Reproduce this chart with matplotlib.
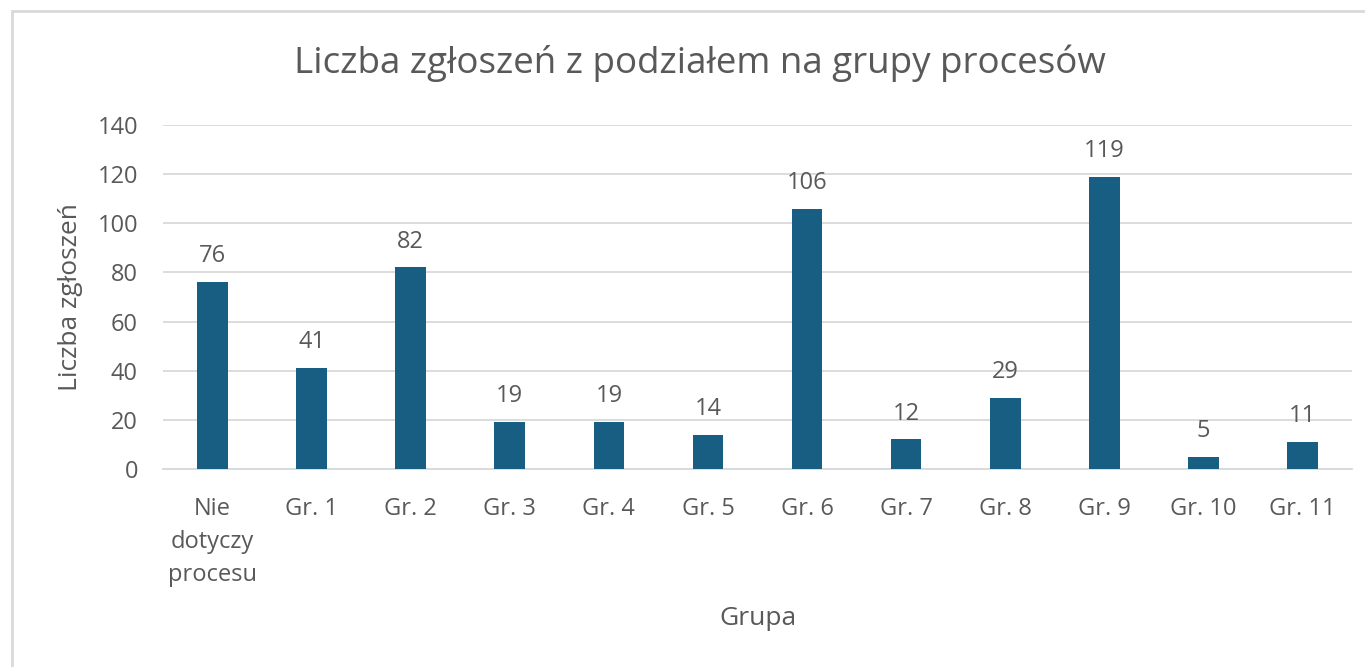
import matplotlib.pyplot as plt
from matplotlib.patches import Rectangle

categories = ['Nie\ndotyczy\nprocesu', 'Gr. 1', 'Gr. 2', 'Gr. 3', 'Gr. 4', 'Gr. 5',
              'Gr. 6', 'Gr. 7', 'Gr. 8', 'Gr. 9', 'Gr. 10', 'Gr. 11']
counts = [76, 41, 82, 19, 19, 14, 106, 12, 29, 119, 5, 11]
yticks = [0, 20, 40, 60, 80, 100, 120, 140]

txt = '#595959'
plt.rcParams['font.family'] = ['Open Sans', 'DejaVu Sans']

fig = plt.figure(figsize=(13.65, 6.67), dpi=100)
ax = fig.add_axes([0.1194, 0.2969, 0.8711, 0.5157])

x = range(len(categories))
bars = ax.bar(x, counts, width=0.31, color='#175E82', zorder=3)
for b, v in zip(bars, counts):
    ax.annotate(str(v), (b.get_x() + b.get_width() / 2, v), xytext=(0, 10),
                textcoords='offset points', ha='center', va='bottom',
                fontsize=17, color=txt)

ax.set_xlim(-0.5, len(categories) - 0.5)
ax.set_ylim(0, 140)
ax.set_yticks(yticks)
ax.set_xticks(list(x))
ax.set_xticklabels(categories, fontsize=17, color=txt, linespacing=1.5)
ax.tick_params(axis='y', labelsize=17, labelcolor=txt, length=0, pad=18)
ax.tick_params(axis='x', length=0, pad=20)
ax.grid(axis='y', color='#D9D9D9', linewidth=1.3, zorder=0)
for s in ['top', 'right', 'left']:
    ax.spines[s].set_visible(False)
ax.spines['bottom'].set_color('#D9D9D9')
ax.spines['bottom'].set_linewidth(1.3)

ax.set_ylabel('Liczba zgłoszeń', fontsize=19, color=txt, labelpad=10)
ax.set_xlabel('Grupa', fontsize=19, color=txt, labelpad=14)
fig.text(0.513, 0.905, 'Liczba zgłoszeń z podziałem na grupy procesów',
         ha='center', va='center', fontsize=26.5, color=txt)

fig.patches.append(Rectangle((12 / 1365, -0.1), 1.2, (667 - 11) / 667 + 0.1,
                             transform=fig.transFigure, fill=False,
                             edgecolor='#D9D9D9', linewidth=2))

fig.savefig('out.png', dpi=100, facecolor='white')
